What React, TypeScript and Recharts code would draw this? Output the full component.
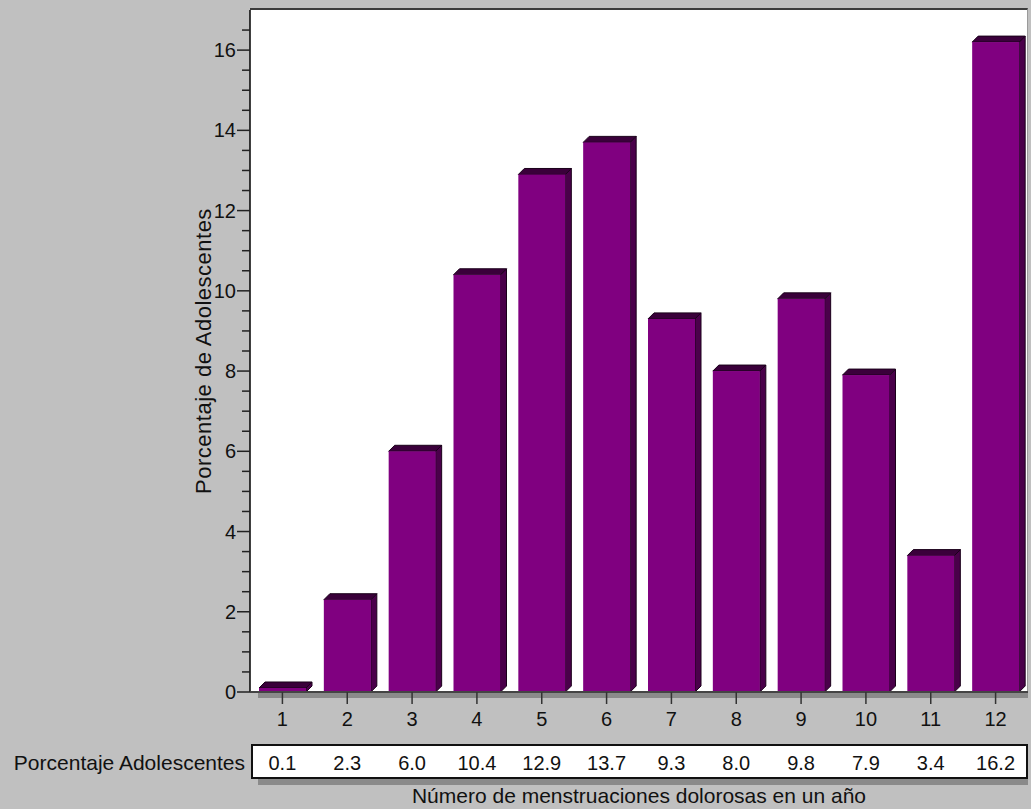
import React from "react";
import { BarChart, Bar, XAxis, YAxis, Label } from "recharts";

// painful menstruations per year vs % of adolescents
const categories = ["1", "2", "3", "4", "5", "6", "7", "8", "9", "10", "11", "12"];
const percentages = [0.1, 2.3, 6.0, 10.4, 12.9, 13.7, 9.3, 8.0, 9.8, 7.9, 3.4, 16.2];
const tableLabels = ["0.1", "2.3", "6.0", "10.4", "12.9", "13.7", "9.3", "8.0", "9.8", "7.9", "3.4", "16.2"];
const majorTicks = [0, 2, 4, 6, 8, 10, 12, 14, 16];
const minorTicks = [0.5, 1, 1.5, 2.5, 3, 3.5, 4.5, 5, 5.5, 6.5, 7, 7.5, 8.5, 9, 9.5, 10.5, 11, 11.5, 12.5, 13, 13.5, 14.5, 15, 15.5, 16.5];

const data = categories.map((c, i) => ({ cat: c, pct: percentages[i] }));

const FONT = "'Liberation Sans', Arial, sans-serif";
const W = 1031;
const H = 809;
const PLOT_LEFT = 250;
const PLOT_TOP = 10;
const PLOT_RIGHT = 1028;
const PLOT_BOTTOM = 692;
const DEPTH = 6;

function Bar3D(props: any) {
  const { x, y, width, height } = props;
  if (height == null || width == null) return null;
  const d = DEPTH;
  const b = y + height;
  const r = x + width;
  return (
    <g>
      <polygon
        points={`${r},${y} ${r + d},${y - d} ${r + d},${b - d} ${r},${b}`}
        fill="#4a004a"
        stroke="#1a001a"
        strokeWidth={1}
      />
      <polygon
        points={`${x},${y} ${x + d},${y - d} ${r + d},${y - d} ${r},${y}`}
        fill="#3a003a"
        stroke="#1a001a"
        strokeWidth={1}
      />
      <rect x={x} y={y} width={width} height={height} fill="#800080" />
    </g>
  );
}

function YTick(props: any) {
  const { x, y, payload } = props;
  const v = payload.value;
  const major = majorTicks.includes(v);
  return (
    <g>
      <line x1={x - (major ? 13 : 8)} x2={x} y1={y} y2={y} stroke="#222" strokeWidth={1.5} />
      {major && (
        <text x={x - 14} y={y} textAnchor="end" dominantBaseline="central" fontSize={20} fontFamily={FONT} fill="#111">
          {v}
        </text>
      )}
    </g>
  );
}

function XTick(props: any) {
  const { x, y, payload } = props;
  return (
    <g>
      <line x1={x} x2={x} y1={y} y2={y + 12} stroke="#333" strokeWidth={1.5} />
      <text x={x} y={y + 27} textAnchor="middle" dominantBaseline="central" fontSize={20} fontFamily={FONT} fill="#111">
        {payload.value}
      </text>
    </g>
  );
}

function TableTick(props: any) {
  const { x, y, payload } = props;
  return (
    <text x={x} y={y + 21} textAnchor="middle" dominantBaseline="central" fontSize={20} fontFamily={FONT} fill="#111">
      {tableLabels[payload.index]}
    </text>
  );
}

export default function App() {
  return (
    <div style={{ position: "absolute", left: 0, top: 0, width: W, height: H, background: "#c0c0c0", overflow: "hidden" }}>
      {/* plot wall */}
      <div
        style={{
          position: "absolute",
          left: PLOT_LEFT,
          top: PLOT_TOP - 2,
          width: PLOT_RIGHT - PLOT_LEFT,
          height: PLOT_BOTTOM - PLOT_TOP + 2,
          background: "#fff",
          borderTop: "2px solid #3c3c3c",
          borderRight: "1px solid #9a9a9a",
          boxSizing: "border-box",
        }}
      />
      {/* floor */}
      <div style={{ position: "absolute", left: 258, top: PLOT_BOTTOM, width: PLOT_RIGHT - 258, height: 6, background: "#8a8a8a" }} />
      {/* data table */}
      <div style={{ position: "absolute", left: 258, top: 778, width: PLOT_RIGHT - 258, height: 7, background: "#8a8a8a" }} />
      <div
        style={{
          position: "absolute",
          left: 251,
          top: 744,
          width: PLOT_RIGHT - 251,
          height: 35,
          background: "#fff",
          border: "2px solid #111",
          boxSizing: "border-box",
        }}
      />
      <div
        style={{
          position: "absolute",
          left: 0,
          top: 750,
          width: 245,
          textAlign: "right",
          fontFamily: FONT,
          fontSize: 21,
          lineHeight: "26px",
          color: "#111",
        }}
      >
        Porcentaje Adolescentes
      </div>
      <div style={{ position: "absolute", left: 0, top: 0 }}>
        <BarChart width={W} height={H} data={data} margin={{ top: PLOT_TOP, right: W - PLOT_RIGHT, bottom: 0, left: 0 }} barSize={47}>
          <YAxis
            width={PLOT_LEFT}
            domain={[0, 17]}
            ticks={[...majorTicks, ...minorTicks]}
            interval={0}
            tickLine={false}
            tickSize={0}
            tickMargin={0}
            tick={<YTick />}
            axisLine={{ stroke: "#000", strokeWidth: 1.5 }}
          >
            <Label
              value="Porcentaje de Adolescentes"
              angle={-90}
              position="center"
              dx={78}
              style={{ fontFamily: FONT, fontSize: 22, fill: "#111", letterSpacing: 0.5 }}
            />
          </YAxis>
          <XAxis
            dataKey="cat"
            height={50}
            interval={0}
            tickLine={false}
            tickSize={0}
            tickMargin={0}
            tick={<XTick />}
            axisLine={{ stroke: "#444", strokeWidth: 2 }}
          />
          <XAxis
            xAxisId="tbl"
            dataKey="cat"
            height={67}
            interval={0}
            tickLine={false}
            axisLine={false}
            tickSize={0}
            tickMargin={0}
            tick={<TableTick />}
          >
            <Label
              value="Número de menstruaciones dolorosas en un año"
              position="insideBottom"
              offset={6}
              style={{ fontFamily: FONT, fontSize: 21, fill: "#111" }}
            />
          </XAxis>
          <Bar dataKey="pct" shape={<Bar3D />} isAnimationActive={false} />
        </BarChart>
      </div>
    </div>
  );
}
